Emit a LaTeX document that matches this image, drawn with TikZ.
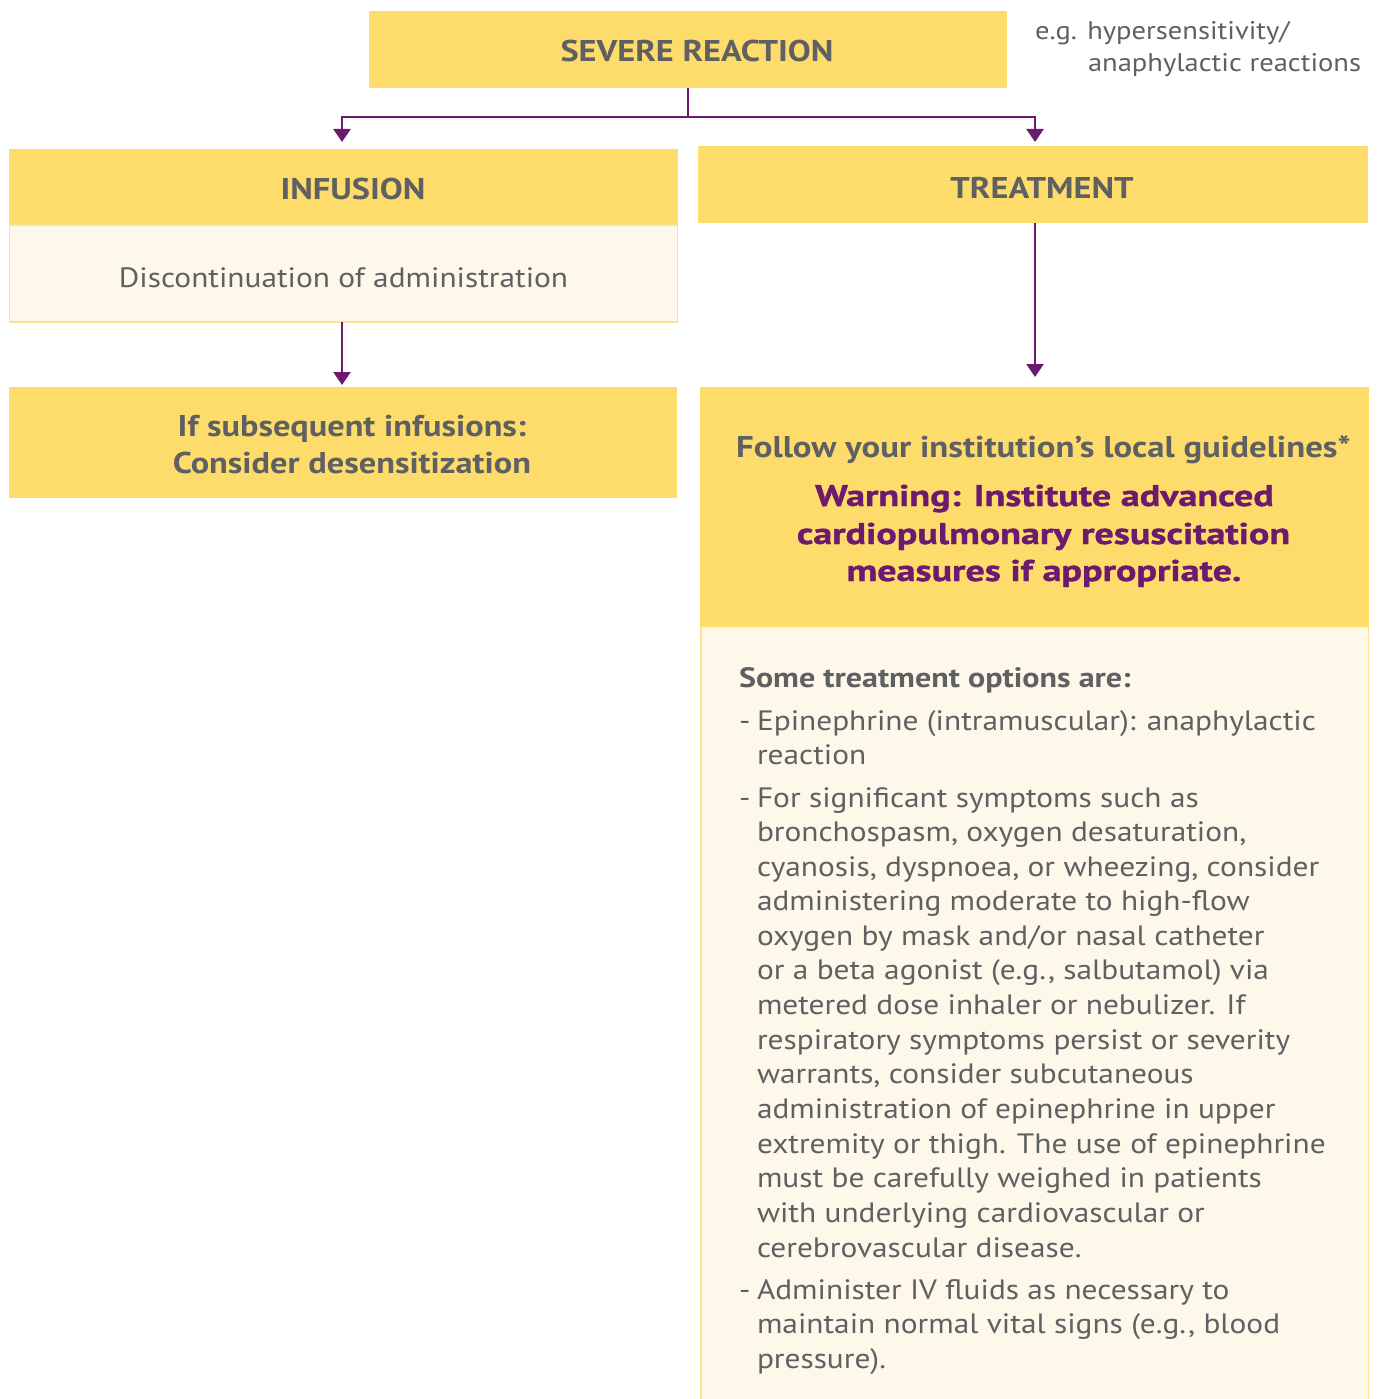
\documentclass[tikz,border=0pt]{standalone}
\usepackage{fontspec}
\setmainfont{PT Sans}[FakeStretch=1.12]
\newfontfamily\boldf{PT Sans}[FakeStretch=1.145]
\newfontfamily\followf{PT Sans}[FakeStretch=1.16]
\newfontfamily\warnf{PT Sans}[FakeStretch=1.27, BoldFeatures={FakeBold=1.2}]
\usetikzlibrary{arrows.meta}
\definecolor{ylw}{HTML}{FEDC6C}
\definecolor{cream}{HTML}{FEF8EA}
\definecolor{edge}{HTML}{FCE48E}
\definecolor{gry}{HTML}{5F6062}
\definecolor{prp}{HTML}{6C1A6E}
\newcommand\tline[3]{\node[body, anchor=base west] (#1) at (757,#2) {#3};}
\newcommand\dashmark[2]{\node[body, anchor=base west] (#1) at (739,#2) {-};}
\begin{document}
\begin{tikzpicture}[x=1pt,y=-1pt,
  box/.style={rectangle, inner sep=0, outer sep=0, anchor=north west, fill=ylw, draw=none},
  cbox/.style={rectangle, inner sep=0, outer sep=0, anchor=north west, fill=cream, draw=edge, line width=1.5pt},
  head/.style={inner sep=0, outer sep=0, anchor=base, text=gry, font=\boldf\bfseries\fontsize{30}{36}\selectfont},
  body/.style={inner sep=0, outer sep=0, text=gry, font=\fontsize{28}{34.6}\selectfont},
  bodyb/.style={body, font=\boldf\bfseries\fontsize{28}{34.6}\selectfont},
  warn/.style={inner sep=0, outer sep=0, anchor=base, text=prp, font=\warnf\bfseries\fontsize{30}{36}\selectfont},
  conn/.style={draw=prp, line width=2.5pt},
  arr/.style={conn, -{Triangle[length=13pt,width=17pt]}}]
\useasboundingbox[fill=white] (0,0) rectangle (1382,1399);

% boxes
\node[box, minimum width=638pt, minimum height=77pt] (sev) at (369,11) {};
\node[box, minimum width=669pt, minimum height=76pt] (infh) at (9,149) {};
\node[cbox, minimum width=668pt, minimum height=97pt] (infb) at (9.5,225) {};
\node[box, minimum width=668pt, minimum height=111pt] (subs) at (9,387) {};
\node[box, minimum width=670pt, minimum height=77pt] (treat) at (698,146) {};
\path[fill=cream] (700,627) rectangle (1369,1400);
\draw[edge, line width=1.5pt] (700.75,627) -- (700.75,1400) (1368.25,627) -- (1368.25,1400);
\node[box, minimum width=669pt, minimum height=240pt] (bigh) at (700,387) {};

% texts
\node[head] (tsev) at (697,62) {SEVERE REACTION};
\node[body, anchor=base west, font=\fontsize{25.5}{32}\selectfont] (eg1) at (1035,40) {e.g. hypersensitivity/};
\node[body, anchor=base west, font=\fontsize{25.5}{32}\selectfont] (eg2) at (1088,72) {anaphylactic reactions};
\node[head] (tinf) at (353,200) {INFUSION};
\node[head] (ttreat) at (1042,198) {TREATMENT};
\node[body, anchor=base] (tdisc) at (343.5,287) {Discontinuation of administration};
\node[head] (tsub1) at (352,436) {If subsequent infusions:};
\node[head] (tsub2) at (352,473) {Consider desensitization};
\node[head, font=\followf\bfseries\fontsize{30}{36}\selectfont] (tfol) at (1043.5,457) {Follow your institution’s local guidelines*};
\node[warn] (w1) at (1044.5,506) {Warning: Institute advanced};
\node[warn] (w2) at (1043.5,544) {cardiopulmonary resuscitation};
\node[warn] (w3) at (1044,581) {measures if appropriate.};

\node[bodyb, anchor=base west] (opts) at (739,687) {Some treatment options are:};
\dashmark{d1}{730}
\tline{a1}{730}{Epinephrine (intramuscular): anaphylactic}
\tline{a2}{764}{reaction}
\dashmark{d2}{807}
\tline{b1}{807}{For significant symptoms such as}
\tline{b2}{841}{bronchospasm, oxygen desaturation,}
\tline{b3}{876}{cyanosis, dyspnoea, or wheezing, consider}
\tline{b4}{910}{administering moderate to high-flow}
\tline{b5}{945}{oxygen by mask and/or nasal catheter}
\tline{b6}{979}{or a beta agonist (e.g., salbutamol) via}
\tline{b7}{1014}{metered dose inhaler or nebulizer. If}
\tline{b8}{1049}{respiratory symptoms persist or severity}
\tline{b9}{1083}{warrants, consider subcutaneous}
\tline{b10}{1118}{administration of epinephrine in upper}
\tline{b11}{1153}{extremity or thigh. The use of epinephrine}
\tline{b12}{1187}{must be carefully weighed in patients}
\tline{b13}{1222}{with underlying cardiovascular or}
\tline{b14}{1257}{cerebrovascular disease.}
\dashmark{d3}{1299}
\tline{c1}{1299}{Administer IV fluids as necessary to}
\tline{c2}{1333}{maintain normal vital signs (e.g., blood}
\tline{c3}{1368}{pressure).}

% connectors
\coordinate (j) at (688,117);
\draw[conn] (sev.south -| j) -- (j);
\draw[arr, shorten >=7pt] (j) -| (infh.north -| 342,0);
\draw[arr, shorten >=4pt] (j) -| (treat.north -| 1035,0);
\draw[arr, shorten >=2pt] (infb.south -| 342,0) -- (subs.north -| 342,0);
\draw[arr, shorten >=10pt] (treat.south -| 1035,0) -- (bigh.north -| 1035,0);
\end{tikzpicture}
\end{document}
